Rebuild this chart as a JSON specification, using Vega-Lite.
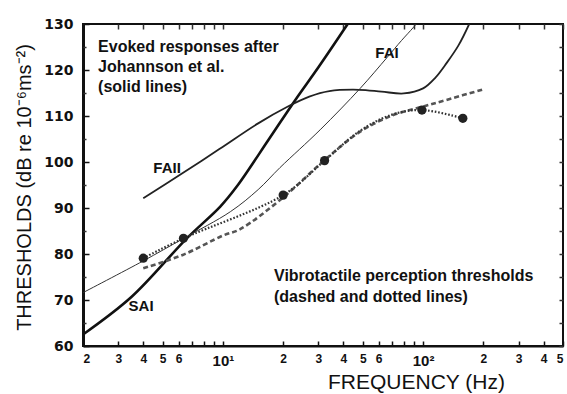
{
  "$schema": "https://vega.github.io/schema/vega-lite/v6.json",
  "width": 480,
  "height": 322,
  "autosize": "none",
  "padding": {"left": 83, "top": 24, "right": 4, "bottom": 48},
  "background": "white",
  "config": {
    "view": {"stroke": "#111", "strokeWidth": 2},
    "font": "Liberation Sans",
    "axis": {"grid": false}
  },
  "resolve": {"axis": {"x": "independent", "y": "independent"}},
  "datasets": {
    "sai": [
      {"f": 2, "db": 62.5}, {"f": 3.5, "db": 70.7}, {"f": 6.6, "db": 83.4},
      {"f": 9.7, "db": 90.3}, {"f": 11.7, "db": 94.6}, {"f": 17, "db": 105}, {"f": 23, "db": 113.5},
      {"f": 30, "db": 120.6}, {"f": 42, "db": 130}, {"f": 50, "db": 135}
    ],
    "faii": [
      {"f": 4, "db": 92.1}, {"f": 6.3, "db": 97.6}, {"f": 9.6, "db": 102.8},
      {"f": 15, "db": 108.4}, {"f": 21, "db": 112}, {"f": 27, "db": 114.2},
      {"f": 34, "db": 115.4}, {"f": 48, "db": 115.7}, {"f": 62, "db": 115.3},
      {"f": 80, "db": 114.9}, {"f": 100, "db": 116}, {"f": 115, "db": 118.3},
      {"f": 131, "db": 121.5}, {"f": 150, "db": 125.3}, {"f": 170, "db": 130},
      {"f": 190, "db": 135}
    ],
    "fai": [
      {"f": 2, "db": 71.6}, {"f": 4, "db": 78.5}, {"f": 6.3, "db": 83.3},
      {"f": 10.9, "db": 89.2}, {"f": 15, "db": 94}, {"f": 19.3, "db": 98.8},
      {"f": 30.6, "db": 107}, {"f": 48.5, "db": 116}, {"f": 66, "db": 122.7},
      {"f": 78, "db": 126.4}, {"f": 90, "db": 129.4}, {"f": 110, "db": 134}
    ],
    "dashed": [
      {"f": 4, "db": 76.9}, {"f": 6.3, "db": 79.8}, {"f": 10, "db": 84},
      {"f": 12.2, "db": 85.4}, {"f": 20, "db": 92.3}, {"f": 32, "db": 100.3},
      {"f": 48.5, "db": 106.6}, {"f": 70, "db": 110.1}, {"f": 97, "db": 111.9},
      {"f": 131, "db": 113.5}, {"f": 200, "db": 115.8}
    ],
    "dotted": [
      {"f": 4, "db": 79.1}, {"f": 6.35, "db": 83.4}, {"f": 20, "db": 92.8},
      {"f": 32.2, "db": 100.3}, {"f": 48.5, "db": 106.8}, {"f": 70, "db": 110.3},
      {"f": 98.7, "db": 111.3}, {"f": 158, "db": 109.5}
    ],
    "dots": [
      {"f": 4, "db": 79.1}, {"f": 6.35, "db": 83.4}, {"f": 20, "db": 92.8},
      {"f": 32.2, "db": 100.3}, {"f": 98.7, "db": 111.3}, {"f": 158, "db": 109.5}
    ],
    "notes": [
      {"text": "Evoked responses after", "f": 2.38, "db": 125},
      {"text": "Johannson et al.", "f": 2.38, "db": 120.6},
      {"text": "(solid lines)", "f": 2.38, "db": 116.3},
      {"text": "Vibrotactile perception thresholds", "f": 18, "db": 75.2},
      {"text": "(dashed and dotted lines)", "f": 18, "db": 70.6}
    ],
    "curvelabels": [
      {"text": "FAII", "f": 5.26, "db": 98.7},
      {"text": "SAI", "f": 3.9, "db": 68.7},
      {"text": "FAI", "f": 66, "db": 123.8}
    ]
  },
  "layer": [
    {
      "data": {"name": "sai"},
      "mark": {"type": "line", "interpolate": "catmull-rom", "clip": true, "color": "#111", "strokeWidth": 2.6},
      "encoding": {
        "x": {
          "field": "f", "type": "quantitative",
          "scale": {"type": "log", "domain": [2, 500], "nice": false},
          "axis": {
            "orient": "bottom",
            "values": [2, 3, 4, 5, 6, 7, 8, 9, 10, 20, 30, 40, 50, 60, 70, 80, 90, 100, 200, 300, 400, 500],
            "labelExpr": "datum.value == 10 ? '10¹' : datum.value == 100 ? '10²' : (indexof([7, 8, 9, 70, 80, 90], datum.value) >= 0 ? '' : '' + round(datum.value / pow(10, floor(log(datum.value) / LN10 + 0.000001))))",
            "labelOverlap": false,
            "labelFont": "Liberation Sans",
            "labelFontWeight": "bold",
            "labelFontSize": {"condition": {"test": "datum.value == 10 || datum.value == 100", "value": 15}, "value": 12},
            "labelColor": "#111",
            "labelPadding": 12,
            "ticks": true,
            "tickSize": -5,
            "tickColor": "#111",
            "tickWidth": 1.5,
            "domainColor": "#111",
            "domainWidth": 2,
            "title": "FREQUENCY (Hz)",
            "titleFont": "Liberation Sans",
            "titleFontSize": 21,
            "titleFontWeight": "normal",
            "titleColor": "#111",
            "titleX": 333,
            "titleY": 36,
            "titleBaseline": "middle",
            "titleAlign": "center"
          }
        },
        "y": {
          "field": "db", "type": "quantitative",
          "scale": {"domain": [60, 130], "nice": false, "zero": false},
          "axis": {
            "orient": "left",
            "values": [60, 70, 80, 90, 100, 110, 120, 130],
            "labelFont": "DejaVu Sans",
            "labelFontWeight": "bold",
            "labelFontSize": 14,
            "labelColor": "#111",
            "labelPadding": 16,
            "ticks": true,
            "tickSize": -6,
            "tickColor": "#111",
            "tickWidth": 1.5,
            "domainColor": "#111",
            "domainWidth": 3,
            "title": "THRESHOLDS (dB re 10⁻⁶ms⁻²)",
            "titleFont": "Liberation Sans",
            "titleFontSize": 20,
            "titleFontWeight": "normal",
            "titleColor": "#111",
            "titleAngle": -90,
            "titleX": -59,
            "titleY": 163,
            "titleBaseline": "middle",
            "titleAlign": "center"
          }
        }
      }
    },
    {
      "data": {"name": "faii"},
      "mark": {"type": "line", "interpolate": "catmull-rom", "clip": true, "color": "#222", "strokeWidth": 1.8},
      "encoding": {
        "x": {
          "field": "f", "type": "quantitative",
          "scale": {"type": "log", "domain": [2, 500], "nice": false},
          "axis": {
            "orient": "top",
            "values": [2, 3, 4, 5, 6, 7, 8, 9, 10, 20, 30, 40, 50, 60, 70, 80, 90, 100, 200, 300, 400, 500],
            "labels": true, "labelExpr": "''", "domain": false, "title": null,
            "ticks": true, "tickSize": -5, "tickColor": "#333", "tickWidth": 1.5
          }
        },
        "y": {
          "field": "db", "type": "quantitative",
          "scale": {"domain": [60, 130], "nice": false, "zero": false},
          "axis": {
            "orient": "right",
            "values": [60, 65, 70, 75, 80, 85, 90, 95, 100, 105, 110, 115, 120, 125, 130],
            "labels": true, "labelExpr": "''", "domain": false, "title": null,
            "ticks": true, "tickSize": -4, "tickColor": "#333", "tickWidth": 1.5
          }
        }
      }
    },
    {
      "data": {"name": "fai"},
      "mark": {"type": "line", "interpolate": "catmull-rom", "clip": true, "color": "#333", "strokeWidth": 1},
      "encoding": {
        "x": {"field": "f", "type": "quantitative", "scale": {"type": "log", "domain": [2, 500], "nice": false}, "axis": null},
        "y": {
          "field": "db", "type": "quantitative",
          "scale": {"domain": [60, 130], "nice": false, "zero": false},
          "axis": {
            "orient": "left",
            "values": [65, 75, 85, 95, 105, 115, 125],
            "labels": true, "labelExpr": "''", "domain": false, "title": null,
            "ticks": true, "tickSize": -3, "tickColor": "#333", "tickWidth": 1.5
          }
        }
      }
    },
    {
      "data": {"name": "dashed"},
      "mark": {"type": "line", "interpolate": "catmull-rom", "clip": true, "color": "#555", "strokeWidth": 2.6, "strokeDash": [5, 3]},
      "encoding": {
        "x": {"field": "f", "type": "quantitative", "scale": {"type": "log", "domain": [2, 500], "nice": false}, "axis": null},
        "y": {"field": "db", "type": "quantitative", "scale": {"domain": [60, 130], "nice": false, "zero": false}, "axis": null}
      }
    },
    {
      "data": {"name": "dotted"},
      "mark": {"type": "line", "interpolate": "catmull-rom", "clip": true, "color": "#333", "strokeWidth": 2.2, "strokeDash": [1.6, 1.8]},
      "encoding": {
        "x": {"field": "f", "type": "quantitative", "scale": {"type": "log", "domain": [2, 500], "nice": false}, "axis": null},
        "y": {"field": "db", "type": "quantitative", "scale": {"domain": [60, 130], "nice": false, "zero": false}, "axis": null}
      }
    },
    {
      "data": {"name": "dots"},
      "mark": {"type": "point", "filled": true, "color": "#222", "opacity": 1, "size": 85},
      "encoding": {
        "x": {"field": "f", "type": "quantitative", "scale": {"type": "log", "domain": [2, 500], "nice": false}, "axis": null},
        "y": {"field": "db", "type": "quantitative", "scale": {"domain": [60, 130], "nice": false, "zero": false}, "axis": null}
      }
    },
    {
      "data": {"name": "notes"},
      "mark": {"type": "text", "align": "left", "baseline": "middle", "font": "Liberation Sans", "fontWeight": "bold", "fontSize": 16, "color": "#111"},
      "encoding": {
        "x": {"field": "f", "type": "quantitative", "scale": {"type": "log", "domain": [2, 500], "nice": false}, "axis": null},
        "y": {"field": "db", "type": "quantitative", "scale": {"domain": [60, 130], "nice": false, "zero": false}, "axis": null},
        "text": {"field": "text"}
      }
    },
    {
      "data": {"name": "curvelabels"},
      "mark": {"type": "text", "align": "center", "baseline": "middle", "font": "Liberation Sans", "fontWeight": "bold", "fontSize": 15, "color": "#111"},
      "encoding": {
        "x": {"field": "f", "type": "quantitative", "scale": {"type": "log", "domain": [2, 500], "nice": false}, "axis": null},
        "y": {"field": "db", "type": "quantitative", "scale": {"domain": [60, 130], "nice": false, "zero": false}, "axis": null},
        "text": {"field": "text"}
      }
    }
  ]
}
